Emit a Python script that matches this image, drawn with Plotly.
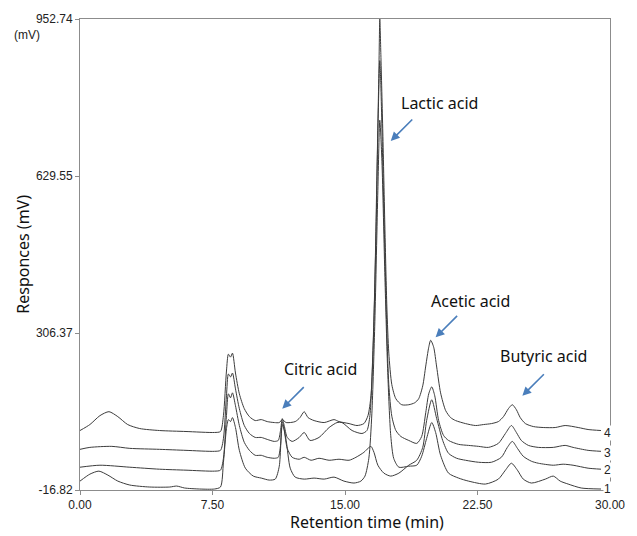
import plotly.graph_objects as go

# ---- data (retention time in min, response in mV) ----
time_4 = [0.00, 0.56, 1.13, 1.64, 2.14, 2.70, 3.38, 4.50, 6.00, 7.61, 7.95, 8.12, 8.29, 8.40, 8.52, 8.63, 8.80,
          9.02, 9.30, 9.59, 9.92, 10.26, 10.60, 11.00, 11.28, 11.45, 11.67, 12.18, 12.45, 12.69, 12.91, 13.25,
          13.82, 14.38, 14.66, 15.23, 15.68, 16.07, 16.30, 16.47, 16.64, 16.80, 16.92, 16.97, 17.03, 17.14,
          17.26, 17.37, 17.48, 17.65, 17.88, 18.21, 18.61, 18.95, 19.17, 19.40, 19.57, 19.74, 19.85, 20.02,
          20.19, 20.41, 20.70, 20.98, 21.26, 21.82, 22.39, 22.84, 23.29, 23.68, 23.97, 24.25, 24.47, 24.70,
          24.92, 25.21, 25.66, 26.22, 26.90, 27.46, 28.20, 28.76, 29.49]
resp_4 = [105.6, 117.9, 136.3, 144.4, 134.2, 117.9, 109.7, 105.6, 103.6, 101.6, 103.6, 136.3, 228.1, 262.8, 256.7,
          264.9, 224.0, 181.2, 150.6, 134.2, 126.1, 128.1, 124.0, 122.0, 122.0, 128.1, 122.0, 124.0, 132.2, 144.4,
          132.2, 126.1, 122.0, 128.1, 124.0, 119.9, 115.9, 119.9, 136.3, 177.1, 330.0, 620.0, 850.0, 952.74, 880.0,
          720.0, 520.0, 360.0, 265.0, 200.0, 171.0, 158.7, 158.7, 162.8, 171.0, 197.5, 238.3, 277.1, 291.4, 277.1,
          236.3, 183.2, 146.5, 132.2, 126.1, 119.9, 115.9, 117.9, 119.9, 124.0, 134.2, 150.6, 158.7, 148.5,
          132.2, 119.9, 113.8, 111.8, 111.8, 115.9, 111.8, 107.7, 105.6]

time_3 = [0.00, 0.56, 1.80, 2.82, 4.50, 6.00, 7.61, 7.95, 8.12, 8.29, 8.40, 8.52, 8.63, 8.80, 9.02, 9.30, 9.59,
          9.92, 10.26, 10.60, 11.00, 11.22, 11.35, 11.45, 11.56, 11.73, 12.01, 12.41, 12.69, 13.02, 13.53, 14.10,
          14.55, 14.83, 15.40, 15.96, 16.24, 16.41, 16.58, 16.75, 16.86, 16.97, 17.03, 17.14, 17.26, 17.37, 17.48,
          17.65, 17.88, 18.16, 18.61, 19.06, 19.34, 19.57, 19.74, 19.91, 20.08, 20.30, 20.58, 20.86, 21.43, 21.99,
          22.56, 23.12, 23.68, 24.08, 24.42, 24.70, 24.98, 25.38, 25.94, 26.79, 27.46, 27.91, 28.76, 29.49]
resp_3 = [66.9, 70.9, 73.0, 68.9, 66.9, 64.8, 62.8, 64.8, 89.3, 177.1, 222.0, 215.9, 224.0, 191.4, 150.6, 115.9,
          99.5, 91.4, 91.4, 87.3, 83.2, 85.2, 105.6, 130.1, 115.9, 91.4, 83.2, 91.4, 101.6, 85.2, 91.4, 111.8,
          122.0, 122.0, 105.6, 99.5, 105.6, 136.3, 270.0, 500.0, 720.0, 867.0, 815.0, 650.0, 470.0, 310.0, 200.0,
          135.0, 105.6, 93.4, 85.2, 79.1, 93.4, 142.4, 181.2, 195.5, 177.1, 126.1, 95.4, 85.2, 77.1, 75.0,
          73.0, 70.9, 79.1, 99.5, 115.9, 101.6, 85.2, 75.0, 70.9, 70.9, 75.0, 70.9, 64.8, 62.8]

time_2 = [0.00, 1.13, 2.82, 4.50, 6.00, 7.61, 7.95, 8.12, 8.29, 8.40, 8.52, 8.63, 8.80, 9.02, 9.30, 9.59, 9.92,
          10.26, 10.60, 11.00, 11.22, 11.35, 11.45, 11.56, 11.73, 12.01, 12.41, 12.69, 13.08, 13.53, 14.10, 14.66,
          15.23, 15.62, 16.07, 16.30, 16.47, 16.64, 16.86, 17.20, 17.59, 18.05, 18.61, 19.06, 19.40, 19.62, 19.91,
          20.19, 20.53, 20.86, 21.32, 21.82, 22.56, 23.29, 23.85, 24.19, 24.47, 24.76, 25.09, 25.55, 25.94, 26.79,
          27.35, 27.91, 28.76, 29.49]
resp_2 = [30.1, 34.2, 30.1, 26.0, 24.0, 22.0, 24.0, 48.5, 136.3, 181.2, 173.0, 183.2, 156.7, 115.9, 81.2, 64.8,
          54.6, 54.6, 50.5, 48.5, 50.5, 75.0, 117.9, 105.6, 68.9, 50.5, 46.5, 50.5, 44.4, 48.5, 44.4, 46.5,
          44.4, 50.5, 60.7, 68.9, 73.0, 60.7, 34.2, 17.9, 11.8, 17.9, 34.2, 44.4, 70.9, 126.1, 168.9,
          130.1, 85.2, 58.7, 48.5, 44.4, 40.3, 40.3, 50.5, 70.9, 83.2, 68.9, 52.6, 42.4, 38.3, 34.2,
          36.3, 34.2, 28.1, 26.0]

time_1 = [0.00, 0.56, 1.07, 1.58, 2.14, 2.82, 3.95, 5.08, 5.47, 5.92, 6.77, 7.61, 7.95, 8.12, 8.29, 8.40, 8.52,
          8.63, 8.80, 9.02, 9.36, 9.81, 10.26, 10.71, 11.05, 11.28, 11.45, 11.67, 11.90, 12.18, 12.69, 13.25,
          13.82, 14.38, 14.94, 15.51, 15.90, 16.13, 16.35, 16.52, 16.69, 16.86, 16.97, 17.09, 17.26, 17.42,
          17.59, 17.76, 18.05, 18.61, 19.06, 19.34, 19.62, 19.91, 20.13, 20.41, 20.86, 21.43, 21.99, 22.95,
          23.68, 24.08, 24.42, 24.76, 25.09, 25.55, 26.34, 26.79, 27.18, 27.63, 28.37, 29.49]
resp_1 = [1.5, 15.8, 22.0, 13.8, 1.5, -6.6, -10.7, -10.7, -8.7, -12.7, -14.8, -14.8, -10.7, 40.3, 109.7, 128.1,
          124.0, 132.2, 111.8, 64.8, 28.1, 11.8, 7.7, 3.6, 5.6, 32.2, 124.0, 85.2, 28.1, 9.7, 5.6, 7.7,
          5.6, 9.7, 1.5, -2.5, 1.5, 11.8, 48.5, 140.0, 330.0, 600.0, 744.5, 660.0, 420.0, 225.0,
          95.0, 48.0, 30.1, 32.2, 34.2, 52.6, 89.3, 122.0, 101.6, 54.6, 17.9, 7.7, 1.5, -4.6,
          5.6, 24.0, 38.3, 24.0, 5.6, -2.5, 5.6, 11.8, 1.5, -4.6, -12.7, -14.8]

x_tick_vals = [0.0, 7.5, 15.0, 22.5, 30.0]
x_tick_text = ["0.00", "7.50", "15.00", "22.50", "30.00"]
y_tick_vals = [-16.82, 306.37, 629.55, 952.74]
y_tick_text = ["-16.82", "306.37", "629.55", "952.74"]

trace_labels = ["1", "2", "3", "4"]
label_t = 29.83
label_resp = [-15.5, 24.0, 58.7, 99.5]

compounds = ["Lactic acid", "Citric acid", "Acetic acid", "Butyric acid"]
compound_text_pos = [(20.36, 779.2), (13.59, 232.2), (22.11, 373.0), (26.22, 258.7)]
compound_arrow_head = [(17.59, 701.7), (11.45, 150.6), (20.13, 297.5), (25.04, 177.1)]

# ---- figure ----
fig = go.Figure()
line_col = "#3c3c3c"
for t, r in [(time_1, resp_1), (time_2, resp_2), (time_3, resp_3), (time_4, resp_4)]:
    fig.add_trace(go.Scatter(x=t, y=r, mode="lines",
                             line=dict(color=line_col, width=1, shape="spline", smoothing=0.7),
                             showlegend=False, hoverinfo="skip"))

frame_col = "#8c8c8c"
tick_font = dict(family="Liberation Sans, Arial, sans-serif", size=12, color="#222222")
fig.update_xaxes(range=[0, 30], tickvals=x_tick_vals, ticktext=x_tick_text, showline=True, mirror=True,
                 linecolor=frame_col, linewidth=1, ticks="outside", ticklen=4, tickcolor=frame_col,
                 showgrid=False, zeroline=False, tickfont=tick_font)
fig.update_yaxes(range=[-16.82, 952.74], tickvals=y_tick_vals, ticktext=y_tick_text, showline=True, mirror=True,
                 linecolor=frame_col, linewidth=1, ticks="outside", ticklen=4, tickcolor=frame_col,
                 showgrid=False, zeroline=False, tickfont=tick_font)

ann = []
lab_font = dict(family="Noto Sans, sans-serif", size=16, color="#111111")
for name, (tx, ty) in zip(compounds, compound_text_pos):
    ann.append(dict(x=tx, y=ty, xref="x", yref="y", text=name, showarrow=False, font=lab_font,
                    xanchor="center", yanchor="middle"))
for (hx, hy) in compound_arrow_head:
    ann.append(dict(x=hx, y=hy, xref="x", yref="y", text="", showarrow=True, ax=23, ay=-23,
                    arrowhead=2, arrowsize=1.1, arrowwidth=1.6, arrowcolor="#4a7ebb"))
for lab, ly in zip(trace_labels, label_resp):
    ann.append(dict(x=label_t, y=ly, xref="x", yref="y", text=lab, showarrow=False,
                    font=dict(family="Liberation Sans, Arial, sans-serif", size=12, color="#222222"),
                    xanchor="center", yanchor="middle", bgcolor="white", borderpad=0))
ann.append(dict(x=-0.10, y=0.966, xref="paper", yref="paper", text="(mV)", showarrow=False,
                font=tick_font, xanchor="center", yanchor="middle"))
ann.append(dict(x=-0.109, y=0.5, xref="paper", yref="paper", text="Responces (mV)", showarrow=False,
                textangle=-90, font=dict(family="Noto Sans, sans-serif", size=16, color="#111111"),
                xanchor="center", yanchor="middle"))
ann.append(dict(x=0.541, y=-0.067, xref="paper", yref="paper", text="Retention time (min)", showarrow=False,
                font=dict(family="Noto Sans, sans-serif", size=16, color="#111111"),
                xanchor="center", yanchor="middle"))

fig.update_layout(width=637, height=536, margin=dict(l=80, r=25, t=14, b=46),
                  paper_bgcolor="white", plot_bgcolor="white", annotations=ann)

fig.write_html("out.html")
